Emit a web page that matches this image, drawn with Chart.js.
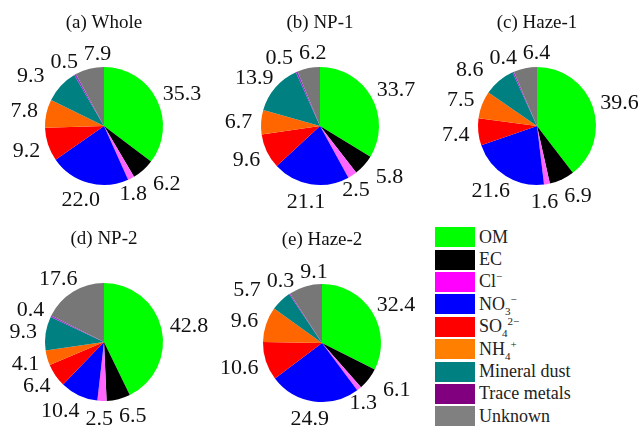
<!DOCTYPE html>
<html>
<head>
<meta charset="utf-8">
<script src="https://cdn.jsdelivr.net/npm/chart.js@4"></script>
<style>
  html, body { margin: 0; padding: 0; background: #fff; }
  body { width: 638px; height: 426px; position: relative; overflow: hidden; }
  canvas.pie { position: absolute; }
  #legend { position: absolute; left: 435px; top: 226px; font-family: "Liberation Serif", "DejaVu Serif", serif; font-size: 18px; color: #222; }
  .row { height: 22.4px; display: flex; align-items: center; }
  .sw { width: 40px; height: 20px; margin-right: 4px; }
  sub, sup { font-size: 11px; line-height: 0; }
</style>
</head>
<body>
<div id="legend"></div>
<script>
// components, in drawing order (clockwise from top)
const components = ['OM', 'EC', 'Cl<sup>\u2212</sup>', 'NO<sub>3</sub><sup>\u2212</sup>', 'SO<sub>4</sub><sup>2\u2212</sup>',
  'NH<sub>4</sub><sup>+</sup>', 'Mineral dust', 'Trace metals', 'Unknown'];
const sliceColors = ['#00ff00', '#000000', '#ff66ff', '#0000ff', '#ff0000', '#ff6600', '#008080', '#9933cc', '#777777'];
const legendColors = ['#00ff00', '#000000', '#ff00ff', '#0000ff', '#ff0000', '#ff8000', '#008080', '#800080', '#808080'];

// mass fractions (%) per period
const whole = [35.3, 6.2, 1.8, 22.0, 9.2, 7.8, 9.3, 0.5, 7.9];
const np1   = [33.7, 5.8, 2.5, 21.1, 9.6, 6.7, 13.9, 0.5, 6.2];
const haze1 = [39.6, 6.9, 1.6, 21.6, 7.4, 7.5, 8.6, 0.4, 6.4];
const np2   = [42.8, 6.5, 2.5, 10.4, 6.4, 4.1, 9.3, 0.4, 17.6];
const haze2 = [32.4, 6.1, 1.3, 24.9, 10.6, 9.6, 5.7, 0.3, 9.1];

const titles = ['(a) Whole', '(b) NP-1', '(c) Haze-1', '(d) NP-2', '(e) Haze-2'];

const panels = [
  { data: whole, cx: 104, cy: 126 },
  { data: np1,   cx: 320, cy: 126 },
  { data: haze1, cx: 537, cy: 126 },
  { data: np2,   cx: 104, cy: 342 },
  { data: haze2, cx: 322, cy: 343 }
];

const SIZE = 240, R = 59;
const FONT = '"Liberation Serif", "DejaVu Serif", serif';
const CAP = 15; // digit height at 22px

// value labels outside each slice + panel title
const pieText = {
  id: 'pieText',
  afterDatasetsDraw(chart, args, opts) {
    const c = chart.ctx;
    const arcs = chart.getDatasetMeta(0).data;
    const vals = chart.data.datasets[0].data;
    c.save();
    c.fillStyle = '#111';
    c.font = '22px ' + FONT;
    c.textAlign = 'center';
    c.textBaseline = 'alphabetic';
    const boxes = arcs.map((a, i) => {
      const mid = (a.startAngle + a.endAngle) / 2;
      const dx = Math.cos(mid), dy = Math.sin(mid);
      const txt = vals[i].toFixed(1);
      const w = c.measureText(txt).width;
      const ax = a.x + dx * a.outerRadius * 1.15;
      const ay = a.y + dy * a.outerRadius * 1.15;
      return { txt, w, x: ax + dx * w / 2, y: ay + dy * CAP / 2 };
    });
    // spread neighbouring labels apart sideways when they collide
    for (let pass = 0; pass < 12; pass++) {
      for (let i = 1; i < boxes.length; i++) {
        const p = boxes[i - 1], q = boxes[i];
        const need = (p.w + q.w) / 2 + 6 - Math.abs(p.x - q.x);
        if (need > 0.1 && Math.abs(p.y - q.y) < CAP) {
          const sgn = p.x < q.x ? -1 : 1;
          p.x += sgn * need / 2;
          q.x -= sgn * need / 2;
        }
      }
    }
    boxes.forEach(b => c.fillText(b.txt, b.x, b.y + CAP / 2 - 0.2));
    const a0 = arcs[0];
    c.font = '19px ' + FONT;
    c.textBaseline = 'middle';
    c.fillText(opts.title, a0.x, a0.y - 103);
    c.restore();
  }
};

panels.forEach((p, k) => {
  const cv = document.createElement('canvas');
  cv.className = 'pie';
  cv.width = SIZE; cv.height = SIZE;
  cv.style.width = SIZE + 'px'; cv.style.height = SIZE + 'px';
  cv.style.left = (p.cx - SIZE / 2) + 'px';
  cv.style.top = (p.cy - SIZE / 2) + 'px';
  document.body.appendChild(cv);
  new Chart(cv.getContext('2d'), {
    type: 'pie',
    data: {
      labels: components,
      datasets: [{ data: p.data, backgroundColor: sliceColors, borderWidth: 0 }]
    },
    options: {
      responsive: false,
      animation: false,
      layout: { padding: SIZE / 2 - R },
      plugins: {
        legend: { display: false },
        tooltip: { enabled: false },
        pieText: { title: titles[k] }
      }
    },
    plugins: [pieText]
  });
});

// legend
const lg = document.getElementById('legend');
components.forEach((name, i) => {
  const row = document.createElement('div');
  row.className = 'row';
  row.innerHTML = '<div class="sw" style="background:' + legendColors[i] + '"></div><span>' + name + '</span>';
  lg.appendChild(row);
});
</script>
</body>
</html>
